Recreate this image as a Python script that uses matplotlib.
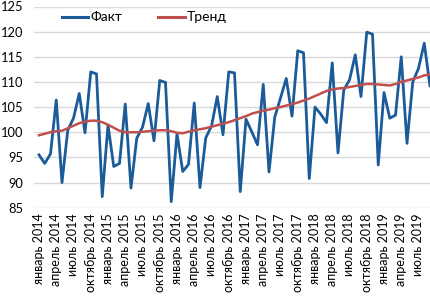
import matplotlib
matplotlib.use("Agg")
import matplotlib.pyplot as plt
import numpy as np

months_ru = ["январь", "февраль", "март", "апрель", "май", "июнь",
             "июль", "август", "сентябрь", "октябрь", "ноябрь", "декабрь"]

fact = [95.5, 93.8, 95.7, 106.4, 90.0, 100.4, 102.8, 107.7, 99.9, 112.0, 111.6, 87.2,
        101.4, 93.2, 93.8, 105.6, 88.9, 98.8, 101.0, 105.7, 98.3, 110.3, 109.9, 86.2,
        99.7, 92.2, 93.6, 105.8, 89.0, 98.9, 101.2, 107.1, 99.5, 112.0, 111.8, 88.2,
        102.6, 100.1, 97.5, 109.5, 92.1, 103.0, 106.8, 110.7, 103.2, 116.2, 115.8, 90.8,
        105.0, 103.6, 101.9, 113.8, 95.9, 108.4, 110.4, 115.4, 107.1, 119.9, 119.5, 93.5,
        107.9, 102.8, 103.4, 115.0, 97.8, 110.0, 112.7, 117.7, 109.2]

trend = [99.4, 99.7, 100.0, 100.2, 100.3, 100.8, 101.3, 101.8, 102.1, 102.3, 102.3, 102.0,
         101.5, 100.9, 100.3, 100.0, 100.0, 100.0, 100.1, 100.2, 100.3, 100.4, 100.4, 100.2,
         99.9, 99.8, 100.1, 100.4, 100.6, 100.8, 101.1, 101.4, 101.7, 102.0, 102.4, 102.8,
         103.2, 103.7, 104.0, 104.3, 104.5, 104.8, 105.0, 105.3, 105.6, 105.9, 106.3, 106.7,
         107.2, 107.7, 108.2, 108.5, 108.7, 108.8, 109.0, 109.2, 109.4, 109.6, 109.6, 109.5,
         109.4, 109.3, 109.6, 110.0, 110.3, 110.6, 110.9, 111.3, 111.5]

start_year = 2014
labels = [f"{months_ru[i % 12]} {start_year + i // 12}" for i in range(len(fact))]
y_ticks = [85, 90, 95, 100, 105, 110, 115, 120, 125]

plt.rcParams['font.family'] = ['Lato', 'DejaVu Sans']

W, H = 431, 302
fig = plt.figure(figsize=(W / 100, H / 100), dpi=100)
L, R, T, B = 34, 431, 6.5, 207.7
ax = fig.add_axes([L / W, 1 - B / H, (R - L) / W, (B - T) / H])

x = np.arange(len(fact))
ax.plot(x, fact, color="#1B5B99", lw=2.0, solid_joinstyle='round', label="Факт", zorder=3)
ax.plot(x, trend, color="#C0504D", lw=1.8, solid_joinstyle='round', label="Тренд", zorder=4)

x0, s = 39.0, 5.75
ax.set_xlim((L - x0) / s, (R - x0) / s)
ax.set_ylim(85, 125)
ax.set_yticks(y_ticks)
ax.set_yticklabels([str(v) for v in y_ticks], fontsize=9.3)
tick_idx = list(range(0, len(fact), 3))
ax.set_xticks(tick_idx)
ax.set_xticklabels([labels[i] for i in tick_idx], rotation=90, fontsize=9)
ax.tick_params(axis='both', length=0)
ax.tick_params(axis='y', pad=7.5)
ax.tick_params(axis='x', pad=4)
ax.grid(axis='y', color="#D9D9D9", lw=1.0, zorder=0)
for sp in ax.spines.values():
    sp.set_visible(False)
ax.set_axisbelow(True)

leg = ax.legend(loc='center', bbox_to_anchor=(0.278, 0.946), ncol=2, frameon=False,
                fontsize=10, handlelength=1.9, handletextpad=0.15, columnspacing=2.6,
                borderpad=0.1)
for lh in leg.get_lines():
    lh.set_linewidth(2.2)

fig.savefig("out.png", dpi=100)
